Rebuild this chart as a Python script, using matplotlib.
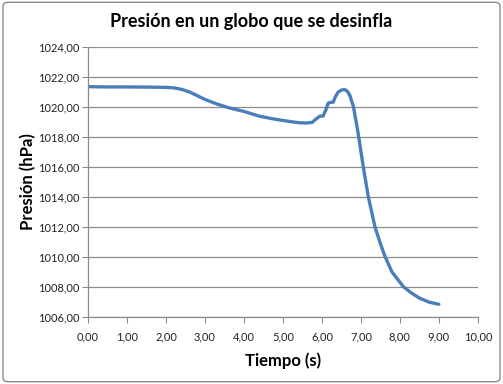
import matplotlib
matplotlib.use('Agg')
import matplotlib.pyplot as plt
from matplotlib.patches import FancyBboxPatch

# tiempo (s) y presión (hPa)
tiempo = [0.0, 0.5, 1.0, 1.5, 2.0, 2.2, 2.4, 2.6, 2.8, 3.0, 3.3, 3.6, 4.0, 4.4, 4.8,
          5.0, 5.2, 5.4, 5.6, 5.75, 5.85, 5.95, 6.03, 6.1, 6.16, 6.22, 6.29, 6.35,
          6.42, 6.5, 6.58, 6.65, 6.72, 6.81, 6.93, 7.06, 7.19, 7.36, 7.5, 7.62,
          7.8, 8.09, 8.3, 8.51, 8.75, 9.0]
presion = [1021.35, 1021.33, 1021.33, 1021.32, 1021.3, 1021.27, 1021.17, 1021.0,
           1020.75, 1020.5, 1020.2, 1019.95, 1019.7, 1019.38, 1019.18, 1019.1,
           1019.02, 1018.95, 1018.93, 1018.97, 1019.2, 1019.39, 1019.39, 1019.8,
           1020.25, 1020.3, 1020.32, 1020.7, 1021.0, 1021.12, 1021.16, 1021.05,
           1020.75, 1020.0, 1018.24, 1016.02, 1014.02, 1012.02, 1010.9, 1010.03,
           1009.0, 1008.03, 1007.6, 1007.26, 1007.0, 1006.86]
xticks = [0, 1, 2, 3, 4, 5, 6, 7, 8, 9, 10]
yticks = [1006, 1008, 1010, 1012, 1014, 1016, 1018, 1020, 1022, 1024]

plt.rcParams['font.family'] = ['Lato', 'DejaVu Sans']

fig = plt.figure(figsize=(5.03, 3.84), dpi=100)
ax = fig.add_axes([0.175, 0.174, 0.775, 0.704])

# borde del gráfico
fig.patches.append(FancyBboxPatch((0.006, 0.006), 0.988, 0.988,
                                  boxstyle='round,pad=0,rounding_size=0.01',
                                  transform=fig.transFigure, fill=False,
                                  ec='#8c8c8c', lw=1))

ax.plot(tiempo, presion, color='#4A7EBB', lw=2.4, solid_capstyle='round')

ax.set_xlim(0, 10)
ax.set_ylim(1006, 1024)
ax.set_xticks(xticks)
ax.set_yticks(yticks)
ax.set_xticklabels([('%.2f' % v).replace('.', ',') for v in xticks])
ax.set_yticklabels([('%.2f' % v).replace('.', ',') for v in yticks])
ax.tick_params(labelsize=8, colors='#222222', length=4, width=0.8)
ax.tick_params(axis='both', color='#8c8c8c')
ax.tick_params(axis='y', pad=2)
ax.tick_params(axis='x', pad=6)

ax.grid(True, axis='y', color='#8c8c8c', lw=0.9)
ax.set_axisbelow(True)
for s in ['top', 'right']:
    ax.spines[s].set_visible(False)
for s in ['left', 'bottom']:
    ax.spines[s].set_color('#8c8c8c')
    ax.spines[s].set_linewidth(0.9)

fig.text(0.5, 0.943, 'Presión en un globo que se desinfla', ha='center', va='center',
         fontsize=13, fontweight='bold')
ax.set_xlabel('Tiempo (s)', fontsize=12, fontweight='bold')
ax.set_ylabel('Presión (hPa)', fontsize=12, fontweight='bold')
ax.xaxis.set_label_coords(0.5, -0.162)
ax.yaxis.set_label_coords(-0.154, 0.5)
ax.xaxis.label.set_va('center')
ax.yaxis.label.set_va('center')

fig.savefig('out.png', dpi=100)
